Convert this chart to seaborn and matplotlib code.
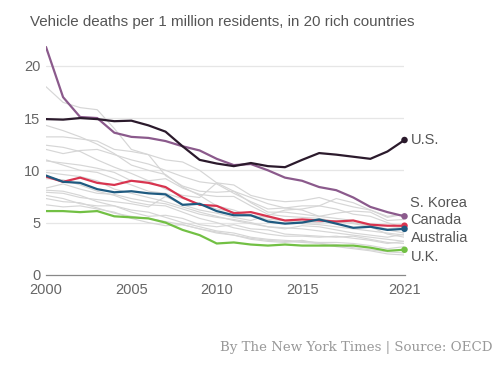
import numpy as np
import pandas as pd
import matplotlib
matplotlib.use("Agg")
import matplotlib.pyplot as plt
import seaborn as sns

years = list(range(2000, 2022))

# highlighted countries
us = [14.9, 14.85, 15.0, 14.9, 14.7, 14.75, 14.3, 13.7, 12.3, 11.0, 10.65, 10.4,
      10.7, 10.4, 10.3, 11.0, 11.65, 11.5, 11.3, 11.1, 11.8, 12.9]
s_korea = [21.8, 17.0, 15.1, 15.0, 13.6, 13.2, 13.1, 12.8, 12.3, 11.9, 11.1, 10.5,
           10.6, 10.0, 9.3, 9.0, 8.4, 8.1, 7.4, 6.5, 6.0, 5.6]
canada = [9.4, 8.9, 9.3, 8.8, 8.6, 9.0, 8.8, 8.4, 7.4, 6.7, 6.6, 5.9,
          6.0, 5.6, 5.2, 5.3, 5.2, 5.1, 5.2, 4.8, 4.7, 4.7]
australia = [9.5, 8.9, 8.8, 8.2, 7.9, 8.0, 7.8, 7.7, 6.7, 6.8, 6.1, 5.7,
             5.7, 5.1, 4.9, 5.0, 5.3, 4.9, 4.5, 4.6, 4.3, 4.4]
uk = [6.1, 6.1, 6.0, 6.1, 5.6, 5.5, 5.4, 5.0, 4.3, 3.8, 3.0, 3.1,
      2.9, 2.8, 2.9, 2.8, 2.8, 2.8, 2.8, 2.6, 2.3, 2.4]

# the other 15 countries (grey background lines, estimated)
others = [
    [18.0, 16.5, 16.0, 15.8, 14.0, 12.0, 11.5, 9.5, 8.5, 8.0, 7.9, 8.0, 6.9, 6.0, 6.0, 5.8, 5.6, 5.9, 6.1, 6.0, 5.2, 5.3],
    [14.3, 13.8, 13.2, 12.5, 11.6, 10.5, 10.0, 9.6, 8.4, 7.6, 6.6, 6.2, 5.6, 5.3, 5.2, 5.1, 5.0, 5.2, 5.0, 4.7, 4.4, 4.6],
    [13.2, 13.2, 13.0, 12.8, 12.0, 11.8, 11.5, 11.0, 10.8, 10.0, 8.8, 8.6, 7.6, 7.2, 7.0, 7.1, 7.4, 6.9, 6.5, 6.2, 5.6, 5.8],
    [12.4, 12.2, 11.8, 11.0, 10.3, 9.7, 9.0, 9.2, 8.3, 7.7, 7.5, 7.5, 6.6, 5.8, 5.6, 5.5, 5.4, 5.1, 4.9, 4.6, 4.3, 4.0],
    [12.0, 11.6, 11.9, 12.0, 11.5, 11.0, 10.6, 10.0, 9.4, 8.9, 8.7, 7.8, 7.0, 6.3, 6.4, 6.6, 6.6, 7.3, 6.9, 6.2, 5.5, 5.8],
    [10.9, 10.7, 10.5, 10.2, 9.8, 9.0, 9.0, 8.2, 7.6, 7.4, 8.8, 8.0, 7.4, 6.8, 6.4, 6.2, 5.6, 5.4, 5.2, 4.6, 3.9, 3.6],
    [9.8, 9.6, 9.4, 9.0, 8.2, 7.8, 7.4, 7.0, 6.5, 6.0, 5.6, 5.2, 4.9, 4.6, 4.5, 4.4, 4.2, 4.0, 3.8, 3.6, 3.4, 3.2],
    [8.3, 8.7, 8.2, 7.8, 7.7, 7.3, 7.0, 6.8, 6.3, 5.8, 5.5, 5.3, 5.0, 4.6, 4.4, 4.7, 4.6, 4.3, 4.0, 3.8, 3.6, 3.9],
    [8.1, 8.0, 7.6, 7.0, 6.6, 6.2, 6.0, 5.5, 5.0, 4.6, 4.2, 4.0, 3.6, 3.4, 3.3, 3.2, 3.1, 3.1, 3.0, 2.8, 2.5, 2.7],
    [7.6, 7.3, 6.8, 6.6, 6.6, 6.0, 5.6, 5.7, 5.4, 4.8, 4.6, 4.8, 4.4, 4.3, 3.9, 3.8, 3.7, 3.6, 3.7, 3.4, 3.1, 3.0],
    [7.3, 7.0, 6.9, 6.4, 5.9, 5.6, 5.4, 5.1, 4.8, 4.4, 4.0, 3.8, 3.5, 3.3, 3.2, 3.1, 3.0, 2.9, 2.6, 2.4, 2.2, 2.1],
    [6.7, 6.5, 6.6, 6.3, 6.0, 5.4, 5.0, 4.7, 4.8, 4.4, 4.1, 3.8, 3.4, 3.2, 3.1, 3.3, 3.0, 2.7, 2.5, 2.3, 2.0, 1.9],
    [9.2, 9.1, 8.6, 8.0, 7.6, 7.0, 6.7, 6.6, 6.0, 5.4, 5.0, 4.5, 4.2, 3.9, 3.7, 3.7, 3.6, 3.7, 3.5, 3.3, 3.0, 3.2],
    [7.9, 7.8, 7.4, 7.2, 7.0, 6.8, 6.5, 7.5, 6.7, 6.2, 5.9, 5.5, 5.2, 5.7, 6.2, 6.3, 6.6, 6.3, 5.8, 5.6, 5.0, 4.5],
    [11.0, 10.5, 10.0, 9.8, 9.2, 8.6, 8.0, 7.8, 7.3, 6.8, 6.3, 6.0, 5.7, 5.5, 5.2, 4.9, 4.8, 4.6, 4.4, 4.2, 4.0, 3.8],
]

highlight = {"Canada": canada, "Australia": australia, "U.K.": uk,
             "S. Korea": s_korea, "U.S.": us}
colors = {"U.S.": "#2b1a2c", "S. Korea": "#8b5a8c", "Canada": "#d8344f",
          "Australia": "#1f5a80", "U.K.": "#72c044"}
# label placement on the right (y in data units)
label_y = {"U.S.": 12.9, "S. Korea": 6.9, "Canada": 5.25,
           "Australia": 3.5, "U.K.": 1.75}

rows = []
for i, vals in enumerate(others):
    for y, v in zip(years, vals):
        rows.append({"year": y, "value": v, "country": f"other{i}"})
grey_df = pd.DataFrame(rows)

rows = []
for name, vals in highlight.items():
    for y, v in zip(years, vals):
        rows.append({"year": y, "value": v, "country": name})
hi_df = pd.DataFrame(rows)

sns.set_style("white")
plt.rcParams["font.family"] = ["Liberation Sans", "DejaVu Sans"]

fig = plt.figure(figsize=(5.0, 3.65), dpi=100)
ax = fig.add_axes([0.092, 0.247, 0.717, 0.63])

for y in [5, 10, 15, 20]:
    ax.axhline(y, color="#e6e6e6", lw=0.9, zorder=0)

sns.lineplot(data=grey_df, x="year", y="value", units="country", estimator=None,
             color="#d6d6d6", lw=0.85, ax=ax, legend=False)
sns.lineplot(data=hi_df, x="year", y="value", hue="country", palette=colors,
             hue_order=list(highlight.keys()), lw=1.6, ax=ax, legend=False)

last = hi_df[hi_df["year"] == years[-1]]
sns.scatterplot(data=last, x="year", y="value", hue="country", palette=colors,
                s=22, edgecolor="none", ax=ax, legend=False, zorder=5, clip_on=False)

for name in highlight:
    ax.text(years[-1] + 0.35, label_y[name], name, fontsize=10.5, color="#555555",
            va="center", ha="left")

ax.set_xlim(2000, 2021)
ax.set_ylim(0, 22)
ax.set_xticks([2000, 2005, 2010, 2015, 2021])
ax.set_yticks([0, 5, 10, 15, 20])
ax.set_xlabel("")
ax.set_ylabel("")
for s in ["top", "right", "left"]:
    ax.spines[s].set_visible(False)
ax.spines["bottom"].set_color("#888888")
ax.spines["bottom"].set_linewidth(0.9)
ax.tick_params(axis="x", length=4, color="#888888", labelsize=10.5,
               labelcolor="#666666", pad=2)
ax.tick_params(axis="y", length=0, labelsize=10.5, labelcolor="#666666", pad=4)

fig.text(0.06, 0.94, "Vehicle deaths per 1 million residents, in 20 rich countries",
         fontsize=10.9, color="#555555", va="center", ha="left")
fig.text(0.44, 0.048, "By The New York Times | Source: OECD",
         fontsize=9.6, color="#999999", va="center", ha="left",
         family=["DejaVu Serif"])

fig.savefig("out.png", dpi=100)
